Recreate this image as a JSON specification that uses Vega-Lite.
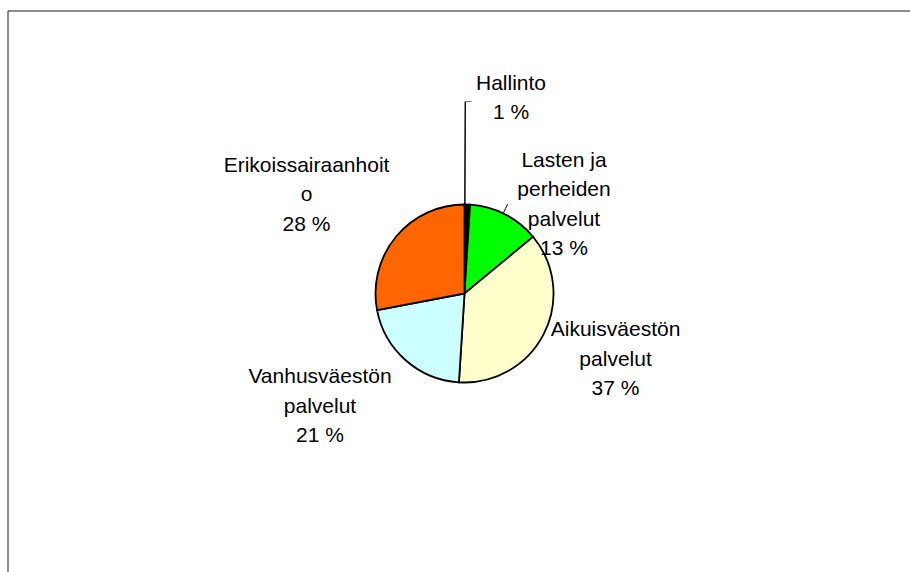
{
  "$schema": "https://vega.github.io/schema/vega-lite/v6.json",
  "width": 910,
  "height": 572,
  "autosize": {"type": "fit", "contains": "padding"},
  "padding": {"left": 7.5, "top": 10.5, "right": -11.5, "bottom": -4.5},
  "background": "white",
  "view": {"stroke": "#1a1a1a", "strokeWidth": 1},
  "config": {"view": {"stroke": "#1a1a1a", "strokeWidth": 1}},
  "data": {
    "values": [
      {"ala": "Hallinto", "osuus": 1, "jarjestys": 1, "nimi": "Hallinto\n1 %"},
      {"ala": "Lasten ja perheiden palvelut", "osuus": 13, "jarjestys": 2, "nimi": "Lasten ja\nperheiden\npalvelut\n13 %"},
      {"ala": "Aikuisväestön palvelut", "osuus": 37, "jarjestys": 3, "nimi": "Aikuisväestön\npalvelut\n37 %"},
      {"ala": "Vanhusväestön palvelut", "osuus": 21, "jarjestys": 4, "nimi": "Vanhusväestön\npalvelut\n21 %"},
      {"ala": "Erikoissairaanhoito", "osuus": 28, "jarjestys": 5, "nimi": "Erikoissairaanhoit\no\n28 %"}
    ]
  },
  "encoding": {
    "theta": {"field": "osuus", "type": "quantitative", "stack": true},
    "order": {"field": "jarjestys", "type": "quantitative"}
  },
  "layer": [
    {
      "mark": {"type": "arc", "outerRadius": 89, "stroke": "#000000", "strokeWidth": 1.8},
      "encoding": {
        "color": {
          "field": "ala",
          "type": "nominal",
          "legend": null,
          "scale": {
            "domain": ["Hallinto", "Lasten ja perheiden palvelut", "Aikuisväestön palvelut", "Vanhusväestön palvelut", "Erikoissairaanhoito"],
            "range": ["#000000", "#00FF00", "#FFFFCC", "#CCFFFF", "#FF6600"]
          }
        }
      }
    },
    {
      "transform": [{"filter": "datum.ala === 'Hallinto'"}],
      "mark": {"type": "arc", "theta": 0.004, "theta2": 0.0041, "radius": 192, "radius2": 89, "fill": null, "stroke": "#000000", "strokeWidth": 1},
      "encoding": {"theta": null, "order": null}
    },
    {
      "transform": [{"filter": "datum.ala === 'Hallinto'"}],
      "mark": {"type": "arc", "theta": 0.004, "theta2": 0.036, "radius": 192, "radius2": 192, "fill": null, "stroke": "#777777", "strokeWidth": 1},
      "encoding": {"theta": null, "order": null}
    },
    {
      "transform": [{"filter": "datum.ala === 'Lasten ja perheiden palvelut'"}],
      "mark": {"type": "arc", "theta": 0.45, "theta2": 0.4501, "radius": 99, "radius2": 89, "fill": null, "stroke": "#444444", "strokeWidth": 1},
      "encoding": {"theta": null, "order": null}
    },
    {
      "mark": {"type": "text", "radius": 150, "dx": 41.8, "dy": -70.6, "align": "center", "baseline": "top", "font": "Liberation Sans", "fontSize": 21, "lineHeight": 29.5, "lineBreak": "\n", "color": "#000000"},
      "encoding": {"text": {"condition": {"test": "datum.ala === 'Hallinto'", "field": "nimi", "type": "nominal"}, "value": ""}}
    },
    {
      "mark": {"type": "text", "radius": 150, "dx": 31.4, "dy": -10.2, "align": "center", "baseline": "top", "font": "Liberation Sans", "fontSize": 21, "lineHeight": 29.5, "lineBreak": "\n", "color": "#000000"},
      "encoding": {"text": {"condition": {"test": "datum.ala === 'Lasten ja perheiden palvelut'", "field": "nimi", "type": "nominal"}, "value": ""}}
    },
    {
      "mark": {"type": "text", "radius": 150, "dx": 17.4, "dy": -42.1, "align": "center", "baseline": "top", "font": "Liberation Sans", "fontSize": 21, "lineHeight": 29.5, "lineBreak": "\n", "color": "#000000"},
      "encoding": {"text": {"condition": {"test": "datum.ala === 'Aikuisväestön palvelut'", "field": "nimi", "type": "nominal"}, "value": ""}}
    },
    {
      "mark": {"type": "text", "radius": 150, "dx": -45.3, "dy": -39.7, "align": "center", "baseline": "top", "font": "Liberation Sans", "fontSize": 21, "lineHeight": 29.5, "lineBreak": "\n", "color": "#000000"},
      "encoding": {"text": {"condition": {"test": "datum.ala === 'Vanhusväestön palvelut'", "field": "nimi", "type": "nominal"}, "value": ""}}
    },
    {
      "mark": {"type": "text", "radius": 150, "dx": -42.4, "dy": -43.2, "align": "center", "baseline": "top", "font": "Liberation Sans", "fontSize": 21, "lineHeight": 29.5, "lineBreak": "\n", "color": "#000000"},
      "encoding": {"text": {"condition": {"test": "datum.ala === 'Erikoissairaanhoito'", "field": "nimi", "type": "nominal"}, "value": ""}}
    }
  ]
}
